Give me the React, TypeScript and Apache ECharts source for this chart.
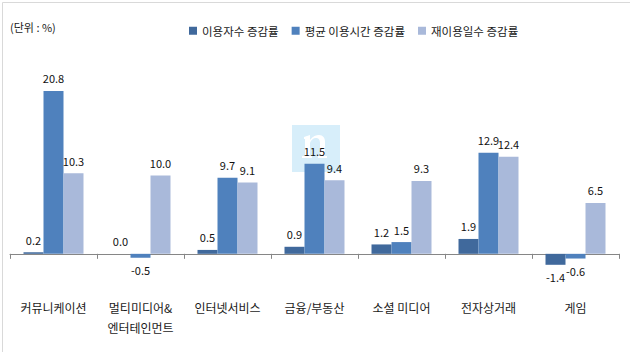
import React, { useEffect, useRef } from "react";
import * as echarts from "echarts";

const categories = [
  "커뮤니케이션",
  "멀티미디어&\n엔터테인먼트",
  "인터넷서비스",
  "금융/부동산",
  "소셜 미디어",
  "전자상거래",
  "게임",
];
const seriesNames = ["이용자수 증감률", "평균 이용시간 증감률", "재이용일수 증감률"];
const usersGrowth = [0.2, 0.0, 0.5, 0.9, 1.2, 1.9, -1.4];
const timeGrowth = [20.8, -0.5, 9.7, 11.5, 1.5, 12.9, -0.6];
const revisitGrowth = [10.3, 10.0, 9.1, 9.4, 9.3, 12.4, 6.5];
const colors = ["#40699C", "#4F81BD", "#A9B9DA"];

const FONT = "'Noto Sans CJK KR', 'Noto Sans', sans-serif";

const N_PATH =
  "M2 4 L8 2 L8 7 C11 3 14 2 17 2 C21 2 23 5 23 9 L23 23 L25 23 L25 25 L16 25 L16 23 L18 23 L18 10 C18 6 16 5 14 5 C11 5 9 7 8 10 L8 23 L10 23 L10 25 L0 25 L0 23 L3 23 L3 6 L2 6 Z";
echarts.graphic.registerShape("wmN", echarts.graphic.extendPath(N_PATH, {}));

export default function App() {
  const ref = useRef<HTMLDivElement>(null);
  useEffect(() => {
    document.body.style.margin = "0";
    const chart = echarts.init(ref.current!, null, { renderer: "svg" });
    const mk = (name: string, vals: number[], color: string) => ({
      name,
      type: "bar",
      barWidth: 20,
      barGap: "0%",
      itemStyle: { color },
      label: {
        show: true,
        fontSize: 11,
        fontFamily: FONT,
        color: "#111",
        distance: 7,
        formatter: (p: any) => Number(p.value).toFixed(1),
      },
      data: vals.map((v) => ({
        value: v,
        label: { position: v < 0 ? "bottom" : "top" },
      })),
    });
    chart.setOption({
      animation: false,
      color: colors,
      textStyle: { fontFamily: FONT },
      legend: {
        data: seriesNames,
        top: 20,
        left: 184,
        icon: "rect",
        itemWidth: 8,
        itemHeight: 8,
        itemGap: 13,
        textStyle: { fontSize: 11.5, color: "#1a1a1a", fontFamily: FONT },
      },
      graphic: [
        {
          type: "rect",
          left: 0,
          top: 0,
          shape: { width: 629, height: 351 },
          style: { fill: "none", stroke: "#d9d9d9", lineWidth: 1 },
          silent: true,
        },
        {
          type: "text",
          left: 10,
          top: 21,
          style: {
            text: "(단위 : %)",
            fontSize: 11,
            fill: "#1a1a1a",
            fontFamily: FONT,
          },
        },
        {
          type: "rect",
          left: 292,
          top: 125,
          z: -10,
          shape: { width: 48, height: 47 },
          style: { fill: "#D7EEFA" },
        },
        {
          type: "wmN",
          x: 302,
          y: 133,
          z: -9,
          style: { fill: "#ffffff" },
        },
      ],
      grid: {
        left: 10,
        right: 11,
        top: 58,
        bottom: 59,
        containLabel: false,
        outerBoundsMode: "none",
      },
      xAxis: {
        type: "category",
        data: categories,
        axisLine: { lineStyle: { color: "#868686", width: 1 } },
        axisTick: { show: true, interval: 0, length: 5, lineStyle: { color: "#868686" } },
        axisLabel: {
          interval: 0,
          margin: 4,
          fontSize: 12,
          lineHeight: 20,
          color: "#1a1a1a",
          fontFamily: FONT,
          verticalAlign: "top",
        },
      },
      yAxis: {
        type: "value",
        min: -5,
        max: 25,
        show: false,
        splitLine: { show: false },
      },
      series: [
        mk(seriesNames[0], usersGrowth, colors[0]),
        mk(seriesNames[1], timeGrowth, colors[1]),
        mk(seriesNames[2], revisitGrowth, colors[2]),
      ],
    });
    return () => chart.dispose();
  }, []);
  return (
    <div
      ref={ref}
      style={{ position: "fixed", left: 0, top: 0, width: 630, height: 352, background: "#fff" }}
    />
  );
}
